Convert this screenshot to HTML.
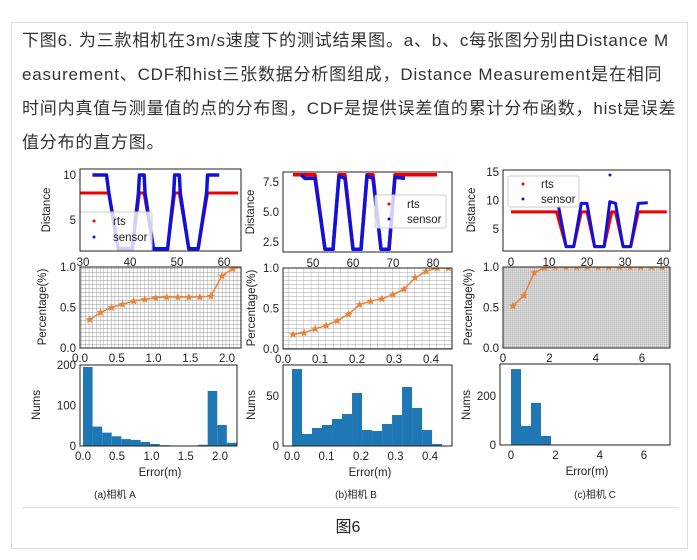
<!DOCTYPE html>
<html><head><meta charset="utf-8"><style>
html,body{margin:0;padding:0;background:#fff;width:697px;height:560px;overflow:hidden}
#box{position:absolute;left:11px;top:22px;width:675px;height:525px;border:1px solid #ddd}
#txt{position:absolute;left:22px;top:24px;width:670px;font-family:"Liberation Sans","Noto Sans CJK SC",sans-serif;font-size:17px;line-height:34px;color:#333;white-space:nowrap;letter-spacing:0.8px}
svg{position:absolute;left:0;top:0}
svg text{font-family:"Liberation Sans","Noto Sans CJK SC",sans-serif;fill:#222}
</style></head><body>
<div id="box"></div>
<div id="txt">下图6. 为三款相机在3m/s速度下的测试结果图。a、b、c每张图分别由Distance M<br>easurement、CDF和hist三张数据分析图组成，Distance Measurement是在相同<br>时间内真值与测量值的点的分布图，CDF是提供误差值的累计分布函数，hist是误差<br>值分布的直方图。</div>
<svg width="697" height="560" viewBox="0 0 697 560">
<defs>
<pattern id="gA" width="3.7" height="4" patternUnits="userSpaceOnUse"><rect width="3.7" height="4" fill="#fff"/><path d="M0 0V4M0 0H3.7" stroke="#999" stroke-width="0.9"/></pattern>
<pattern id="gB" width="7.4" height="4" patternUnits="userSpaceOnUse"><rect width="7.4" height="4" fill="#fff"/><path d="M0 0V4M0 0H7.4" stroke="#aaa" stroke-width="0.9"/></pattern>
<pattern id="gC" width="2" height="2" patternUnits="userSpaceOnUse"><rect width="2" height="2" fill="#e0e0e0"/><path d="M0 0V2M0 0H2" stroke="#999" stroke-width="0.6"/></pattern>
<path id="st" d="M0,-4 L1.2,-1.3 4,-1.2 1.9,0.6 2.5,3.6 0,2 -2.5,3.6 -1.9,0.6 -4,-1.2 -1.2,-1.3Z" fill="#e8833a"/>
<clipPath id="cA1"><rect x="80" y="169" width="161" height="82"/></clipPath>
<clipPath id="cB1"><rect x="283" y="172" width="169" height="80"/></clipPath>
<clipPath id="cC1"><rect x="503" y="170" width="167" height="81"/></clipPath>
<clipPath id="cA2"><rect x="80" y="267" width="161" height="81"/></clipPath>
<clipPath id="cB2"><rect x="283" y="268" width="169" height="81"/></clipPath>
<clipPath id="cC2"><rect x="503" y="267" width="167" height="81"/></clipPath>
</defs>
<g font-size="11.5">
<!-- A top -->
<g clip-path="url(#cA1)">
<g transform="matrix(4.7,0,0,-9,-58,265)" fill="none" stroke-linejoin="round">
<polyline vector-effect="non-scaling-stroke" stroke="#e00" stroke-width="3" points="29,8 35.5,8 37.5,1.8 40.5,1.8 42,8 43,8 45,1.8 48,1.8 49.5,8 50.5,8 52.5,1.8 54.5,1.8 56.5,8 63,8"/>
<polyline vector-effect="non-scaling-stroke" stroke="#11d" stroke-width="3.5" points="35.5,8 37.5,1.8 40.5,1.8 41.8,8 42,10 43,10 43.2,8 45,1.8 48,1.8 49.3,8 49.5,10 50.5,10 50.7,8 52.5,1.8 54.5,1.8 56.3,8 56.5,10 59,10"/>
<polyline vector-effect="non-scaling-stroke" stroke="#11d" stroke-width="3.5" points="32,10 35,10 35.5,8"/>
</g>
<rect x="80" y="212" width="72" height="43" fill="#fff" fill-opacity="0.8" stroke="#ccc" rx="2"/>
</g>
<rect x="80" y="169" width="161" height="82" fill="none" stroke="#222"/>
<circle cx="94" cy="221" r="1.5" fill="#e00"/><text x="113" y="225">rts</text>
<circle cx="94" cy="237" r="1.5" fill="#11d"/><text x="113" y="241">sensor</text>
<g text-anchor="middle"><text x="83" y="266">30</text><text x="130" y="266">40</text><text x="177" y="266">50</text><text x="224" y="266">60</text></g>
<g text-anchor="end"><text x="76" y="224">5</text><text x="76" y="179">10</text></g>
<text transform="translate(50,210) rotate(-90)" text-anchor="middle">Distance</text>
<!-- A CDF -->
<rect x="80" y="267" width="161" height="81" fill="url(#gA)"/>
<g clip-path="url(#cA2)">
<polyline fill="none" stroke="#e8833a" stroke-width="1.5" points="89.6,319.6 100.6,312.4 111.6,307.5 122.6,304.3 133.7,301 144.7,299.4 155.7,297.8 166.7,297 177.8,297 188.8,297 199.8,297 210.8,296.2 221.9,275.9 232.9,268.6 243.9,267"/>
<use href="#st" x="89.6" y="319.6"/><use href="#st" x="100.6" y="312.4"/><use href="#st" x="111.6" y="307.5"/><use href="#st" x="122.6" y="304.3"/><use href="#st" x="133.7" y="301"/><use href="#st" x="144.7" y="299.4"/><use href="#st" x="155.7" y="297.8"/><use href="#st" x="166.7" y="297"/><use href="#st" x="177.8" y="297"/><use href="#st" x="188.8" y="297"/><use href="#st" x="199.8" y="297"/><use href="#st" x="210.8" y="296.2"/><use href="#st" x="221.9" y="275.9"/><use href="#st" x="232.9" y="268.6"/>
</g>
<rect x="80" y="267" width="161" height="81" fill="none" stroke="#222"/>
<g text-anchor="middle"><text x="80" y="362">0.0</text><text x="116.8" y="362">0.5</text><text x="153.5" y="362">1.0</text><text x="190.3" y="362">1.5</text><text x="227" y="362">2.0</text></g>
<g text-anchor="end"><text x="76" y="352">0.0</text><text x="76" y="311.5">0.5</text><text x="76" y="271">1.0</text></g>
<text transform="translate(46,307) rotate(-90)" text-anchor="middle">Percentage(%)</text>
<!-- A hist -->
<g transform="matrix(68.5,0,0,-0.405,83,446)" fill="#1f77b4">
<rect x="0" y="0" width="0.14" height="195"/><rect x="0.14" y="0" width="0.14" height="48"/><rect x="0.28" y="0" width="0.14" height="33"/><rect x="0.42" y="0" width="0.14" height="24"/><rect x="0.56" y="0" width="0.14" height="17"/><rect x="0.7" y="0" width="0.14" height="15"/><rect x="0.84" y="0" width="0.14" height="10"/><rect x="0.98" y="0" width="0.14" height="5"/><rect x="1.12" y="0" width="0.14" height="2"/><rect x="1.26" y="0" width="0.14" height="1"/><rect x="1.4" y="0" width="0.14" height="1"/><rect x="1.54" y="0" width="0.14" height="1"/><rect x="1.68" y="0" width="0.14" height="3"/><rect x="1.82" y="0" width="0.14" height="136"/><rect x="1.96" y="0" width="0.14" height="52"/><rect x="2.1" y="0" width="0.14" height="8"/>
</g>
<rect x="80" y="365" width="157" height="81" fill="none" stroke="#222"/>
<g text-anchor="middle"><text x="83" y="460">0.0</text><text x="117" y="460">0.5</text><text x="151.5" y="460">1.0</text><text x="185.8" y="460">1.5</text><text x="220" y="460">2.0</text><text x="160" y="476">Error(m)</text></g>
<g text-anchor="end"><text x="76" y="450">0</text><text x="76" y="409.5">100</text><text x="76" y="369">200</text></g>
<text transform="translate(40,405) rotate(-90)" text-anchor="middle">Nums</text>

<!-- B top -->
<g clip-path="url(#cB1)">
<g transform="matrix(4,0,0,-12,113,272)" fill="none" stroke-linejoin="round">
<polyline vector-effect="non-scaling-stroke" stroke="#e00" stroke-width="3.5" points="45,8.1 50.5,8.1 53,1.9 55,1.9 56.5,8.1 58,8.1 60,1.9 62,1.9 63.5,8.1 65,8.1 67,1.9 69,1.9 70.5,8.1 81,8.1"/>
<polyline vector-effect="non-scaling-stroke" stroke="#11d" stroke-width="3.5" points="47,8.1 48,7.8 50.5,7.8 53,1.9 55,1.9 56.5,8 58,7.8 60,1.9 62,1.9 63.5,8 65,7.8 67,1.9 69,1.9 70.5,7.9 73,7.8"/>
</g>
<rect x="375" y="195" width="71" height="33" fill="#fff" fill-opacity="0.8" stroke="#ccc" rx="2"/>
</g>
<rect x="283" y="172" width="169" height="80" fill="none" stroke="#222"/>
<circle cx="389" cy="204" r="1.5" fill="#e00"/><text x="407" y="208">rts</text>
<circle cx="389" cy="219" r="1.5" fill="#11d"/><text x="407" y="223">sensor</text>
<g text-anchor="middle"><text x="313" y="267">50</text><text x="353" y="267">60</text><text x="393" y="267">70</text><text x="433" y="267">80</text></g>
<g text-anchor="end"><text x="279" y="246">2.5</text><text x="279" y="216">5.0</text><text x="279" y="186">7.5</text></g>
<text transform="translate(254,212) rotate(-90)" text-anchor="middle">Distance</text>
<!-- B CDF -->
<rect x="283" y="268" width="169" height="81" fill="url(#gB)"/>
<g clip-path="url(#cB2)">
<polyline fill="none" stroke="#e8833a" stroke-width="1.5" points="293,334.4 304.1,332.8 315.2,328.8 326.3,325.5 337.4,320.7 348.5,314.2 359.6,304.5 370.7,301.2 381.8,298.8 392.9,294.7 404,289.1 415.1,277.7 426.2,271.2 437.3,268 448.4,268"/>
<use href="#st" x="293" y="334.4"/><use href="#st" x="304.1" y="332.8"/><use href="#st" x="315.2" y="328.8"/><use href="#st" x="326.3" y="325.5"/><use href="#st" x="337.4" y="320.7"/><use href="#st" x="348.5" y="314.2"/><use href="#st" x="359.6" y="304.5"/><use href="#st" x="370.7" y="301.2"/><use href="#st" x="381.8" y="298.8"/><use href="#st" x="392.9" y="294.7"/><use href="#st" x="404" y="289.1"/><use href="#st" x="415.1" y="277.7"/><use href="#st" x="426.2" y="271.2"/><use href="#st" x="437.3" y="268"/><use href="#st" x="448.4" y="268"/>
</g>
<rect x="283" y="268" width="169" height="81" fill="none" stroke="#222"/>
<g text-anchor="middle"><text x="283" y="363">0.0</text><text x="320" y="363">0.1</text><text x="357" y="363">0.2</text><text x="394" y="363">0.3</text><text x="431" y="363">0.4</text></g>
<g text-anchor="end"><text x="279" y="353">0.0</text><text x="279" y="312.5">0.5</text><text x="279" y="272">1.0</text></g>
<text transform="translate(255,308) rotate(-90)" text-anchor="middle">Percentage(%)</text>
<!-- B hist -->
<g transform="matrix(345,0,0,-1,292,446)" fill="#1f77b4">
<rect x="0" y="0" width="0.029" height="77"/><rect x="0.029" y="0" width="0.029" height="12"/><rect x="0.058" y="0" width="0.029" height="18"/><rect x="0.087" y="0" width="0.029" height="21"/><rect x="0.116" y="0" width="0.029" height="27"/><rect x="0.145" y="0" width="0.029" height="32"/><rect x="0.174" y="0" width="0.029" height="53"/><rect x="0.203" y="0" width="0.029" height="16"/><rect x="0.232" y="0" width="0.029" height="15"/><rect x="0.261" y="0" width="0.029" height="22"/><rect x="0.29" y="0" width="0.029" height="31"/><rect x="0.319" y="0" width="0.029" height="59"/><rect x="0.348" y="0" width="0.029" height="38"/><rect x="0.377" y="0" width="0.029" height="16"/><rect x="0.406" y="0" width="0.029" height="2"/>
</g>
<rect x="283" y="365" width="169" height="81" fill="none" stroke="#222"/>
<g text-anchor="middle"><text x="292" y="460">0.0</text><text x="326.5" y="460">0.1</text><text x="361" y="460">0.2</text><text x="395.5" y="460">0.3</text><text x="430" y="460">0.4</text><text x="370" y="476">Error(m)</text></g>
<g text-anchor="end"><text x="279" y="450">0</text><text x="279" y="400">50</text></g>
<text transform="translate(255,405) rotate(-90)" text-anchor="middle">Nums</text>

<!-- C top -->
<g clip-path="url(#cC1)">
<g transform="matrix(3.8,0,0,-5.7,511,257.5)" fill="none" stroke-linejoin="round">
<polyline vector-effect="non-scaling-stroke" stroke="#e00" stroke-width="3" points="0,8 12,8 14.5,1.9 16.5,1.9 18.5,8 20,8 22,1.9 24.5,1.9 26.5,8 27.5,8 29.5,1.9 31.5,1.9 33.5,8 41,8"/>
<polyline vector-effect="non-scaling-stroke" stroke="#11d" stroke-width="3" points="12.5,9 14.5,1.9 16.5,1.9 18.5,9.5 20,9.5 22,1.9 24.5,1.9 26,9.8 27.5,9.5 29.5,1.9 31.5,1.9 33.5,9.5 36,9.6"/>
</g>
<circle cx="610" cy="175" r="1.5" fill="#11d"/>
<rect x="508" y="176" width="71" height="31" fill="#fff" fill-opacity="0.8" stroke="#ccc" rx="2"/>
</g>
<rect x="503" y="170" width="167" height="81" fill="none" stroke="#222"/>
<circle cx="523" cy="184" r="1.5" fill="#e00"/><text x="541" y="188">rts</text>
<circle cx="523" cy="199" r="1.5" fill="#11d"/><text x="541" y="203">sensor</text>
<g text-anchor="middle"><text x="511" y="266">0</text><text x="549" y="266">10</text><text x="587" y="266">20</text><text x="625" y="266">30</text><text x="663" y="266">40</text></g>
<g text-anchor="end"><text x="499" y="233">5</text><text x="499" y="204.5">10</text><text x="499" y="176">15</text></g>
<text transform="translate(475,210) rotate(-90)" text-anchor="middle">Distance</text>
<!-- C CDF -->
<rect x="503" y="267" width="167" height="81" fill="url(#gC)"/>
<g clip-path="url(#cC2)">
<polyline fill="none" stroke="#e8833a" stroke-width="1.5" points="513,305.9 523.9,295.4 534.3,272.7 544.8,267.8 555.4,267 662.2,267"/>
<use href="#st" x="513" y="305.9"/><use href="#st" x="523.9" y="295.4"/><use href="#st" x="534.3" y="272.7"/><use href="#st" x="544.8" y="267.8"/><use href="#st" x="555.4" y="267"/><use href="#st" x="566.1" y="267"/><use href="#st" x="576.8" y="267"/><use href="#st" x="587.4" y="267"/><use href="#st" x="598.1" y="267"/><use href="#st" x="608.8" y="267"/><use href="#st" x="619.5" y="267"/><use href="#st" x="630.1" y="267"/><use href="#st" x="640.8" y="267"/><use href="#st" x="651.5" y="267"/><use href="#st" x="662.2" y="267"/>
</g>
<rect x="503" y="267" width="167" height="81" fill="none" stroke="#222"/>
<g text-anchor="middle"><text x="503" y="362">0</text><text x="549.4" y="362">2</text><text x="595.8" y="362">4</text><text x="642" y="362">6</text></g>
<g text-anchor="end"><text x="499" y="352">0.0</text><text x="499" y="311.5">0.5</text><text x="499" y="271">1.0</text></g>
<text transform="translate(472,307) rotate(-90)" text-anchor="middle">Percentage(%)</text>
<!-- C hist -->
<g transform="matrix(22.2,0,0,-0.245,511,445)" fill="#1f77b4">
<rect x="0" y="0" width="0.45" height="310"/><rect x="0.45" y="0" width="0.45" height="78"/><rect x="0.9" y="0" width="0.45" height="172"/><rect x="1.35" y="0" width="0.45" height="37"/>
</g>
<rect x="500" y="364" width="170" height="81" fill="none" stroke="#222"/>
<g text-anchor="middle"><text x="511" y="459">0</text><text x="555.4" y="459">2</text><text x="599.8" y="459">4</text><text x="644" y="459">6</text><text x="587" y="475">Error(m)</text></g>
<g text-anchor="end"><text x="496" y="449">0</text><text x="496" y="400">200</text></g>
<text transform="translate(470,405) rotate(-90)" text-anchor="middle">Nums</text>
</g>
<g font-size="10" text-anchor="middle"><text x="115" y="498">(a)相机 A</text><text x="356" y="498">(b)相机 B</text><text x="595" y="498">(c)相机 C</text></g>
<line x1="22" y1="507.5" x2="678" y2="507.5" stroke="#ddd"/>
<text x="348" y="532" font-size="16" text-anchor="middle">图6</text>
</svg>
</body></html>
